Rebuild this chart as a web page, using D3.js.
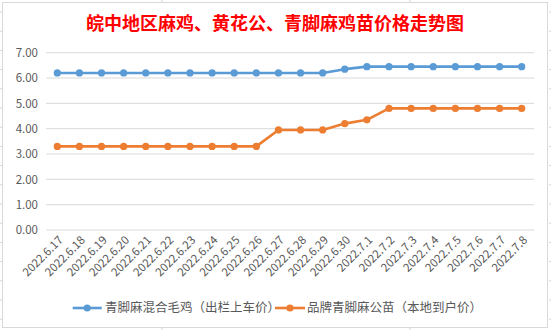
<!DOCTYPE html>
<html><head><meta charset="utf-8">
<script src="https://cdn.jsdelivr.net/npm/d3@7"></script>
<style>html,body{margin:0;padding:0;background:#fff;}svg{display:block;}</style>
</head><body>
<svg id="c" width="551" height="330"></svg>
<script>
const title = "皖中地区麻鸡、黄花公、青脚麻鸡苗价格走势图";
const dates = ["2022.6.17","2022.6.18","2022.6.19","2022.6.20","2022.6.21","2022.6.22","2022.6.23","2022.6.24","2022.6.25","2022.6.26","2022.6.27","2022.6.28","2022.6.29","2022.6.30","2022.7.1","2022.7.2","2022.7.3","2022.7.4","2022.7.5","2022.7.6","2022.7.7","2022.7.8"];
const seriesNames = ["青脚麻混合毛鸡（出栏上车价）","品牌青脚麻公苗（本地到户价）"];
const maoji = [6.2,6.2,6.2,6.2,6.2,6.2,6.2,6.2,6.2,6.2,6.2,6.2,6.2,6.35,6.45,6.45,6.45,6.45,6.45,6.45,6.45,6.45];
const gongmiao = [3.3,3.3,3.3,3.3,3.3,3.3,3.3,3.3,3.3,3.3,3.95,3.95,3.95,4.2,4.35,4.8,4.8,4.8,4.8,4.8,4.8,4.8];
const yTicks = [0,1,2,3,4,5,6,7];
const colors = ["#5B9BD5","#ED7D31"];

const svg = d3.select("#c");
const font = "'Noto Sans CJK SC', 'Noto Sans', sans-serif";

// sheet gridline stubs outside chart
const rows = d3.range(12, 330, 19.2);
svg.selectAll(".rl").data(rows).join("line").attr("x1",0).attr("x2",2).attr("y1",d=>d).attr("y2",d=>d).attr("stroke","#D4D4DC");
svg.selectAll(".rr").data(rows).join("line").attr("x1",549).attr("x2",551).attr("y1",d=>d).attr("y2",d=>d).attr("stroke","#D4D4DC");
svg.selectAll(".ct").data([162,410]).join("line").attr("x1",d=>d).attr("x2",d=>d).attr("y1",0).attr("y2",2).attr("stroke","#D4D4DC");
svg.selectAll(".cb").data([162,410]).join("line").attr("x1",d=>d).attr("x2",d=>d).attr("y1",328).attr("y2",330).attr("stroke","#D4D4DC");

svg.append("rect").attr("x",2.5).attr("y",2.5).attr("width",545).attr("height",325)
  .attr("fill","#fff").attr("stroke","#D9D9D9");

const x = d3.scalePoint().domain(dates).range([57.3, 521.7]);
const y = d3.scaleLinear().domain([0,7]).range([230, 52.7]);

svg.append("text").attr("x",275).attr("y",30).attr("text-anchor","middle")
  .attr("font-family","'Noto Sans CJK SC', sans-serif").attr("font-weight","bold")
  .attr("font-size",18).attr("fill","#FF0000").text(title);

// gridlines
svg.append("g").selectAll("line").data(yTicks).join("line")
  .attr("x1",46).attr("x2",534).attr("y1",d=>y(d)).attr("y2",d=>y(d))
  .attr("stroke","#D9D9D9").attr("stroke-width",1);

// y axis labels
const yAxis = d3.axisLeft(y).tickValues(yTicks).tickFormat(d3.format(".2f")).tickSize(0).tickPadding(0);
const ya = svg.append("g").attr("transform","translate(38,0)").call(yAxis);
ya.select(".domain").remove();
ya.selectAll("text").attr("font-family",font).attr("font-size",11.5).attr("fill","#595959");

// x axis labels
const xAxis = d3.axisBottom(x).tickSize(0).tickPadding(0);
const xa = svg.append("g").attr("transform","translate(3,238)").call(xAxis);
xa.select(".domain").remove();
xa.selectAll("text").attr("font-family",font).attr("font-size",11.5).attr("fill","#595959")
  .attr("text-anchor","end").attr("dy","0.35em")
  .attr("transform","rotate(-45)");

// lines
const series = [maoji, gongmiao];
series.forEach((vals,i)=>{
  const data = vals.map((v,j)=>({d:dates[j],v}));
  svg.append("path").datum(data)
    .attr("d", d3.line().x(p=>x(p.d)).y(p=>y(p.v)))
    .attr("fill","none").attr("stroke",colors[i]).attr("stroke-width",2.6).attr("stroke-linejoin","round");
  svg.append("g").selectAll("circle").data(data).join("circle")
    .attr("cx",p=>x(p.d)).attr("cy",p=>y(p.v)).attr("r",3.6).attr("fill",colors[i]);
});

// legend
const legend = [{x1:72.7,x2:101.7,tx:105},{x1:275,x2:305,tx:307}];
legend.forEach((l,i)=>{
  const g = svg.append("g");
  g.append("line").attr("x1",l.x1).attr("x2",l.x2).attr("y1",308).attr("y2",308)
    .attr("stroke",colors[i]).attr("stroke-width",2.6);
  g.append("circle").attr("cx",(l.x1+l.x2)/2).attr("cy",308).attr("r",3.6).attr("fill",colors[i]);
  g.append("text").attr("x",l.tx).attr("y",308).attr("dy","0.35em")
    .attr("font-family",font).attr("font-size",12.5).attr("fill","#595959").text(seriesNames[i]);
});
</script>
</body></html>
